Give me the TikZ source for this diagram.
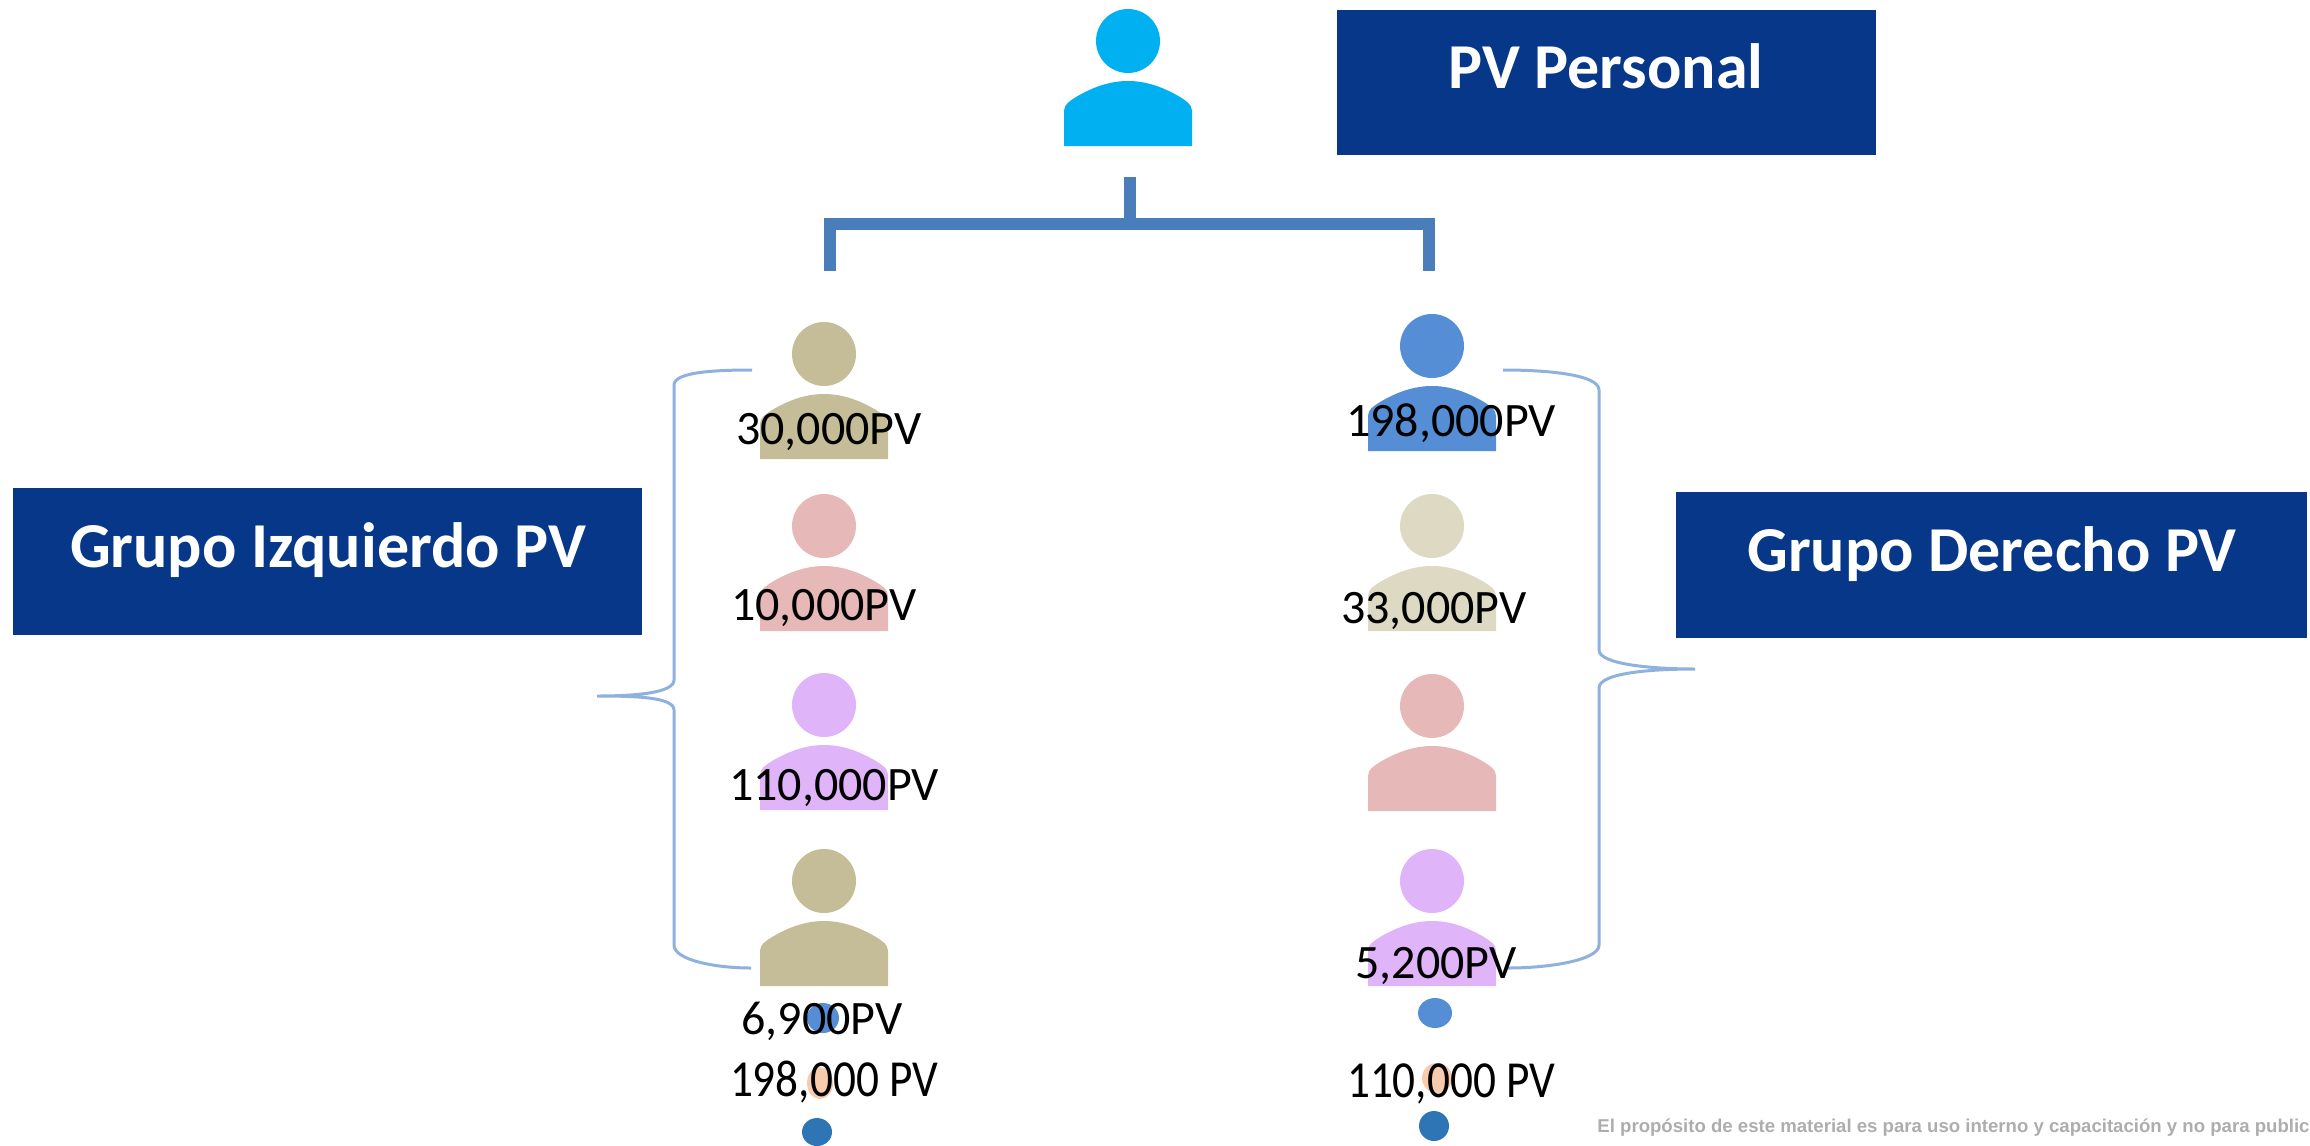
\documentclass[tikz,border=0pt]{standalone}
\usepackage{xcolor}
\usepackage{fontspec}
\setmainfont{Carlito}
\newfontfamily\notefont{Liberation Sans}
\usepackage{tikz}
\usetikzlibrary{positioning}

\definecolor{boxblue}{HTML}{073788}
\definecolor{stemblue}{HTML}{4A7EBB}
\definecolor{bracketblue}{HTML}{8FB1DD}
\definecolor{cyanp}{HTML}{00B0F0}
\definecolor{tanp}{HTML}{C4BD97}
\definecolor{palep}{HTML}{DDD9C3}
\definecolor{pinkp}{HTML}{E6B9B8}
\definecolor{lilacp}{HTML}{E0B4F8}
\definecolor{bluep}{HTML}{558ED5}
\definecolor{peachp}{HTML}{F8CBAD}
\definecolor{darkp}{HTML}{2E75B6}

\newcommand{\person}[4]{%
    \node[head, fill=#4] (#1) at (#2,#3) {};
    \fill[#4, shift={(#2,#3)}] (-64,105) -- (-64,70) .. controls (-64,63) and (-58,60) .. (-52,56)
        .. controls (-35,46) and (-18,40) .. (0,40) .. controls (18,40) and (35,46) .. (52,56)
        .. controls (58,60) and (64,63) .. (64,70) -- (64,105) -- cycle;
}

\begin{document}
\begin{tikzpicture}[x=0.5pt, y=-0.5pt,
            head/.style={circle, minimum size=32pt, inner sep=0pt},
            title/.style={fill=boxblue, inner sep=0pt, anchor=north west},
            titletext/.style={text=white, font=\fontsize{32}{38}\selectfont\bfseries, inner sep=0pt},
            pv/.style={font=\fontsize{24}{28}\selectfont, inner sep=0pt},
            total/.style={font=\fontsize{26}{30}\selectfont, inner sep=0pt, xscale=0.87, transform shape},
            stem/.style={stemblue, line width=6pt},
            bracket/.style={bracketblue, line width=1.5pt}]

    \useasboundingbox (0,0) rectangle (2310,1145);

    % people
    \person{top}{1128}{41}{cyanp}
    \person{lefta}{824}{354}{tanp}
    \person{leftb}{824}{526}{pinkp}
    \person{leftc}{824}{705}{lilacp}
    \person{leftd}{824}{881}{tanp}
    \person{righta}{1432}{346}{bluep}
    \person{rightb}{1432}{526}{palep}
    \person{rightc}{1432}{706}{pinkp}
    \person{rightd}{1432}{881}{lilacp}

    % small dots under the columns
    \fill[bluep] (823,1018) ellipse (16 and 15);
    \fill[bluep] (1435,1013) ellipse (17 and 15);
    \fill[peachp] (820,1083) ellipse (13 and 16);
    \fill[peachp] (1437,1078) ellipse (15 and 15);
    \fill[darkp] (817,1132) ellipse (15 and 14);
    \fill[darkp] (1434,1126) ellipse (15 and 15);

    % boxes
    \node[title, minimum width=269.5pt, minimum height=72.5pt] (personal) at (1337,10) {};
    \node[titletext] (personaltxt) at (1606,66) {PV Personal};
    \node[title, minimum width=314.5pt, minimum height=73.5pt] (izq) at (13,488) {};
    \node[titletext] (izqtxt) at (328,550) {Grupo Izquierdo PV};
    \node[title, minimum width=315.5pt, minimum height=73pt] (der) at (1676,492) {};
    \node[titletext] (dertxt) at (1992,554) {Grupo Derecho PV};

    % tree connector
    \coordinate (stemtop) at (1130,177);
    \coordinate (stemjoin) at (1130,224);
    \coordinate (legleft) at (830,271);
    \coordinate (legright) at (1429,271);
    \draw[stem] (stemtop) -- (stemjoin);
    \draw[stem] (legleft) |- (stemjoin) -| (legright);

    % curly brackets
    \coordinate (lbtop) at (752,370);
    \coordinate (lbtip) at (597,696);
    \coordinate (lbbot) at (751,968);
    \coordinate (rbtop) at (1503,370);
    \coordinate (rbtip) at (1695,669);
    \coordinate (rbbot) at (1508,968);
    \draw[bracket] (lbtop) .. controls (715,370) and (674,372) .. (674,385) -- (674,680)
        .. controls (674,693) and (635,696) .. (lbtip) .. controls (635,696) and (674,697) .. (674,710) -- (674,945)
        .. controls (674,960) and (715,968) .. (lbbot);
    \draw[bracket] (rbtop) .. controls (1550,370) and (1599,375) .. (1599,390) -- (1599,650)
        .. controls (1599,664) and (1650,669) .. (rbtip) .. controls (1650,669) and (1599,673) .. (1599,688) -- (1599,945)
        .. controls (1599,960) and (1550,968) .. (rbbot);

    % amounts
    \node[pv] (pva) at (829,432) {30,000PV};
    \node[pv] (pvb) at (824,608) {10,000PV};
    \node[pv] (pvc) at (834,788) {110,000PV};
    \node[pv] (pvd) at (822,1021) {6,900PV};
    \node[pv] (pve) at (1451,423) {198,000PV};
    \node[pv] (pvf) at (1434,611) {33,000PV};
    \node[pv] (pvg) at (1436,966) {5,200PV};
    \node[total] (totleft) at (834,1082) {198,000 PV};
    \node[total] (totright) at (1451,1084) {110,000 PV};

    \node[anchor=west, inner sep=0pt, text=black!32, font=\notefont\fontsize{9.3}{11}\selectfont\bfseries] (note) at (1597,1128) {El propósito de este material es para uso interno y capacitación y no para public};
\end{tikzpicture}
\end{document}
